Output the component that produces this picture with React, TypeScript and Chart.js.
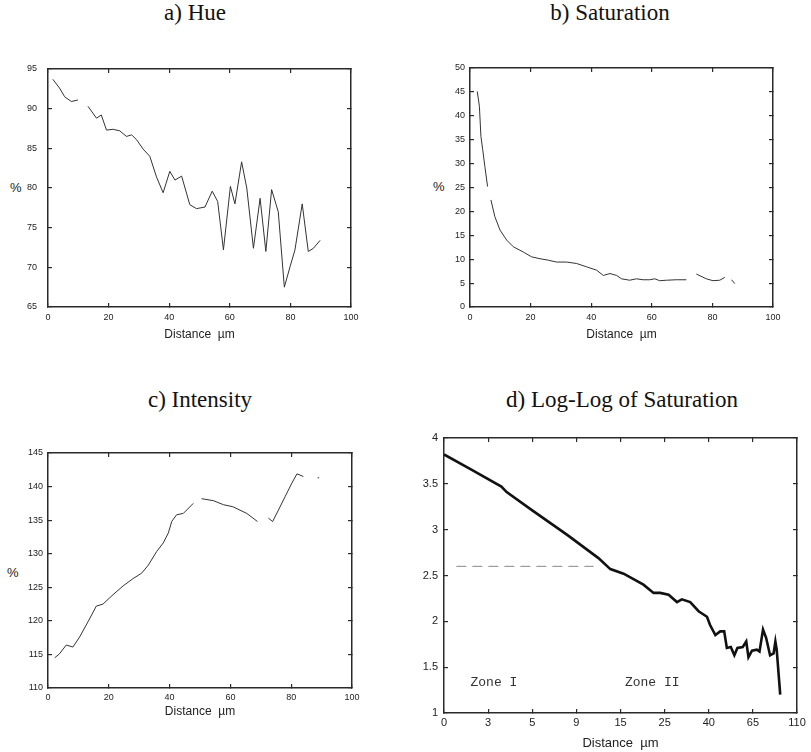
import React, { useEffect, useRef } from "react";
import { Chart, registerables } from "chart.js";
Chart.register(...registerables);

// ---------- data ----------
const hueX = [1.6, 3.8, 5.5, 7.7, 9.9, 11.5, 13.2, 16, 17.6, 19.3, 21.5, 23.7, 25.9, 27.6, 29.2, 31.4, 33.6, 35.8, 38, 40.2, 41.9, 44.1, 46.8, 49, 51.8, 54.2, 56, 57.9, 60.2, 61.7, 63.9, 65.6, 67.8, 70, 71.9, 73.8, 76, 78, 79.9, 81.5, 83.9, 85.9, 87.6, 89.8];
const hueY = [93.7, 92.6, 91.5, 90.9, 91.1, null, 90.3, 88.8, 89.2, 87.3, 87.4, 87.2, 86.5, 86.7, 86.1, 84.9, 84.0, 81.4, 79.4, 82.1, 81.0, 81.5, 77.9, 77.4, 77.6, 79.6, 78.3, 72.2, 80.2, 78.0, 83.3, 80.0, 72.4, 78.7, 72.0, 79.8, 77.0, 67.5, 70.1, 72.2, 78.0, 72.0, 72.4, 73.4];

const satX = [2.4, 3.1, 3.6, 4.2, 4.9, 5.8, 6.3, 6.9, 8.2, 9.9, 12.1, 14.3, 17.6, 20.3, 23.1, 25.8, 28.6, 31.9, 35.2, 38.5, 41.8, 44, 46.2, 48.4, 50, 52.7, 54.9, 57.1, 59.3, 61, 62.6, 64.8, 68.1, 71.4, 73, 74.7, 78, 80.2, 82.4, 84.1, 85.2, 86.3, 87.4];
const satY = [45.1, 42, 35.7, 32.9, 29.4, 25.2, null, 22.4, 18.9, 16.1, 14, 12.6, 11.5, 10.5, 10.1, 9.8, 9.4, 9.4, 9.1, 8.4, 7.7, 6.6, 7.0, 6.6, 5.9, 5.6, 5.9, 5.7, 5.7, 5.9, 5.5, 5.6, 5.7, 5.7, null, 6.9, 5.9, 5.5, 5.6, 6.2, null, 5.7, 4.9];

const intX = [2.2, 3.8, 6, 8.2, 10.4, 13.2, 15.9, 18.1, 21.4, 24.7, 28, 30.8, 33, 35.7, 37.9, 39.6, 40.7, 42.3, 44.5, 47.8, 49.2, 50.5, 54.4, 57.7, 60.8, 65.4, 68.9, 70.7, 72.5, 73.9, 75.8, 78, 80.2, 81.9, 84, 86.5, 88.7, 89.2];
const intY = [114.5, 115.1, 116.4, 116.1, 117.6, 119.9, 122.2, 122.5, 123.9, 125.2, 126.3, 127.1, 128.3, 130.3, 131.6, 133.1, 134.8, 135.8, 136.0, 137.5, null, 138.2, 137.9, 137.3, 137.0, 136.0, 134.8, null, 135.3, 134.8, 136.5, 138.5, 140.5, 141.9, 141.5, null, 141.3, 141.3];

const logX = [0, 0.6, 1.3, 1.42, 2.0, 2.8, 3.5, 3.77, 4.07, 4.52, 4.75, 4.9, 5.09, 5.28, 5.39, 5.58, 5.77, 5.96, 6.03, 6.15, 6.26, 6.35, 6.41, 6.5, 6.58, 6.65, 6.77, 6.85, 6.9, 6.98, 7.09, 7.15, 7.23, 7.3, 7.39, 7.47, 7.51, 7.54, 7.62];
const logY = [3.82, 3.66, 3.47, 3.41, 3.21, 2.94, 2.69, 2.57, 2.52, 2.40, 2.31, 2.31, 2.29, 2.21, 2.24, 2.21, 2.11, 2.05, 1.96, 1.85, 1.89, 1.89, 1.71, 1.72, 1.63, 1.71, 1.72, 1.78, 1.61, 1.68, 1.69, 1.67, 1.91, 1.82, 1.63, 1.65, 1.78, 1.69, 1.20];
const logTickLabels = ["0", "3", "5", "9", "15", "25", "40", "65", "110"];
const refLineX = [0.28, 3.39];
const refLineY = [2.6, 2.6];
const zoneLabels = ["Zone I", "Zone II"];
const zoneX = [0.6, 4.1];
const zoneY = [1.33, 1.33];

const titles = ["a) Hue", "b) Saturation", "c) Intensity", "d) Log-Log of Saturation"];
const xTitle = "Distance  \u00b5m";

// ---------- helpers ----------
const toPts = (xs: number[], ys: (number | null)[]) => xs.map((x, i) => ({ x, y: ys[i] }));

const zonePlugin = {
  id: "zones",
  afterDatasetsDraw(chart: any) {
    if (chart.canvas.dataset.zones !== "1") return;
    const { ctx, scales } = chart;
    ctx.save();
    ctx.font = "13px 'Liberation Mono', 'DejaVu Sans Mono', monospace";
    ctx.fillStyle = "#333";
    ctx.textBaseline = "middle";
    zoneLabels.forEach((s, i) => {
      ctx.fillText(s, scales.x.getPixelForValue(zoneX[i]), scales.y.getPixelForValue(zoneY[i]));
    });
    ctx.restore();
  },
};

type Spec = {
  box: { left: number; top: number; width: number; height: number };
  area: { left: number; top: number; right: number; bottom: number };
  x: [number, number, number];
  y: [number, number, number];
  tickFont: number;
  titleFont: number;
  xTickPad: number;
  yTickPad: number;
  xTitleCenter: number;
  xLabels?: string[];
  yLabel?: (v: number) => string;
  datasets: any[];
  zones?: boolean;
};

const FRAME = "#2a2a2a";
const TL = -4;

function Panel({ spec }: { spec: Spec }) {
  const ref = useRef<HTMLCanvasElement | null>(null);
  useEffect(() => {
    const c = ref.current!;
    const { box, area } = spec;
    const yWidth = area.left - box.left;
    const xHeight = box.top + box.height - area.bottom;
    const lh = spec.titleFont * 1.2;
    const titlePadBottom = box.top + box.height - spec.xTitleCenter - lh / 2;
    const tickFont = { family: "'Liberation Sans', Arial, sans-serif", size: spec.tickFont };
    const grid = { display: true, drawOnChartArea: false, drawTicks: true, tickLength: TL, color: FRAME, lineWidth: 1.2 };
    const border = { display: true, color: FRAME, width: 1.5 };
    const noGrid = { display: false, drawTicks: false, tickLength: 0 };
    const frameAxis = (position: string, range: [number, number, number], horizontal: boolean) => ({
      type: "linear",
      position,
      weight: -10,
      min: range[0],
      max: range[1],
      grid,
      border,
      ticks: { stepSize: range[2], display: false, autoSkip: false },
      afterFit: (s: any) => {
        if (horizontal) s.height = 0;
        else s.width = 0;
      },
    });
    const chart = new Chart(c, {
      type: "line",
      data: { datasets: spec.datasets },
      plugins: [zonePlugin],
      options: {
        animation: false,
        responsive: false,
        devicePixelRatio: 1,
        layout: {
          padding: { left: 0, bottom: 0, top: area.top - box.top, right: box.left + box.width - area.right },
        },
        plugins: { legend: { display: false }, tooltip: { enabled: false } },
        elements: { point: { radius: 0 } },
        scales: {
          x: {
            type: "linear",
            position: "bottom",
            weight: 0,
            min: spec.x[0],
            max: spec.x[1],
            grid: noGrid,
            border: { display: false },
            ticks: {
              stepSize: spec.x[2],
              font: tickFont,
              color: "#222",
              padding: spec.xTickPad,
              maxRotation: 0,
              autoSkip: false,
              callback: (v: any) => (spec.xLabels ? spec.xLabels[Math.round(v)] : String(v)),
            },
            title: {
              display: true,
              text: xTitle,
              color: "#222",
              font: { family: "'Liberation Sans', Arial, sans-serif", size: spec.titleFont },
              padding: { top: 0, bottom: titlePadBottom },
            },
            afterFit: (s: any) => { s.height = xHeight; },
          },
          y: {
            type: "linear",
            position: "left",
            weight: 0,
            min: spec.y[0],
            max: spec.y[1],
            grid: noGrid,
            border: { display: false },
            ticks: {
              stepSize: spec.y[2],
              font: tickFont,
              color: "#222",
              padding: spec.yTickPad,
              autoSkip: false,
              callback: (v: any) => (spec.yLabel ? spec.yLabel(v) : String(v)),
            },
            afterFit: (s: any) => { s.width = yWidth; },
          },
          xBottom: frameAxis("bottom", spec.x, true),
          xTop: frameAxis("top", spec.x, true),
          yLeft: frameAxis("left", spec.y, false),
          yRight: frameAxis("right", spec.y, false),
        },
      } as any,
    });
    return () => chart.destroy();
  }, [spec]);
  const { box } = spec;
  return (
    <canvas
      ref={ref}
      width={box.width}
      height={box.height}
      data-zones={spec.zones ? "1" : "0"}
      style={{ position: "absolute", left: box.left, top: box.top, width: box.width, height: box.height }}
    />
  );
}

const lineStyle = { borderColor: "#333", borderWidth: 1, spanGaps: false, tension: 0, fill: false };

const specs: Spec[] = [
  {
    box: { left: 0, top: 40, width: 400, height: 310 },
    area: { left: 48, top: 69, right: 351, bottom: 307 },
    x: [0, 100, 20], y: [65, 95, 5],
    tickFont: 9, titleFont: 12, xTickPad: 5, yTickPad: 11, xTitleCenter: 335,
    datasets: [{ data: toPts(hueX, hueY), ...lineStyle }],
  },
  {
    box: { left: 410, top: 40, width: 400, height: 310 },
    area: { left: 470, top: 68, right: 773, bottom: 307 },
    x: [0, 100, 20], y: [0, 50, 5],
    tickFont: 9, titleFont: 12, xTickPad: 5, yTickPad: 5, xTitleCenter: 335,
    datasets: [{ data: toPts(satX, satY), ...lineStyle }],
  },
  {
    box: { left: 0, top: 420, width: 400, height: 320 },
    area: { left: 48, top: 453, right: 352, bottom: 688 },
    x: [0, 100, 20], y: [110, 145, 5],
    tickFont: 9, titleFont: 12, xTickPad: 4, yTickPad: 5, xTitleCenter: 712,
    datasets: [{ data: toPts(intX, intY), ...lineStyle }],
  },
  {
    box: { left: 400, top: 420, width: 411, height: 332 },
    area: { left: 444, top: 438, right: 797, bottom: 713 },
    x: [0, 8, 1], y: [1, 4, 0.5],
    tickFont: 11, titleFont: 13, xTickPad: 3, yTickPad: 6, xTitleCenter: 743,
    xLabels: logTickLabels,
    yLabel: (v: number) => String(v),
    zones: true,
    datasets: [
      { data: toPts(logX, logY), borderColor: "#111", borderWidth: 2.6, tension: 0, fill: false },
      { data: toPts(refLineX, refLineY), borderColor: "#888", borderWidth: 1, borderDash: [10, 6], fill: false },
    ],
  },
];

const titlePos = [
  { cx: 195, top: 1 },
  { cx: 610, top: 1 },
  { cx: 200, top: 388 },
  { cx: 622, top: 388 },
];

const pctPos = [
  { left: 10, top: 180 },
  { left: 433, top: 179 },
  { left: 7, top: 565 },
];

export default function App() {
  return (
    <div style={{ position: "absolute", left: 0, top: 0, width: 811, height: 752, background: "#fff", overflow: "hidden" }}>
      {titles.map((t, i) => (
        <div
          key={t}
          style={{
            position: "absolute",
            left: titlePos[i].cx - 200,
            width: 400,
            top: titlePos[i].top,
            textAlign: "center",
            fontFamily: "'Liberation Serif', 'Times New Roman', serif",
            fontSize: 23,
            lineHeight: "23px",
            color: "#111",
            whiteSpace: "nowrap",
          }}
        >
          {t}
        </div>
      ))}
      {pctPos.map((p, i) => (
        <div
          key={i}
          style={{
            position: "absolute",
            left: p.left,
            top: p.top,
            fontFamily: "'Liberation Sans', Arial, sans-serif",
            fontSize: 13,
            lineHeight: "16px",
            color: "#222",
          }}
        >
          %
        </div>
      ))}
      {specs.map((s, i) => (
        <Panel key={i} spec={s} />
      ))}
    </div>
  );
}
